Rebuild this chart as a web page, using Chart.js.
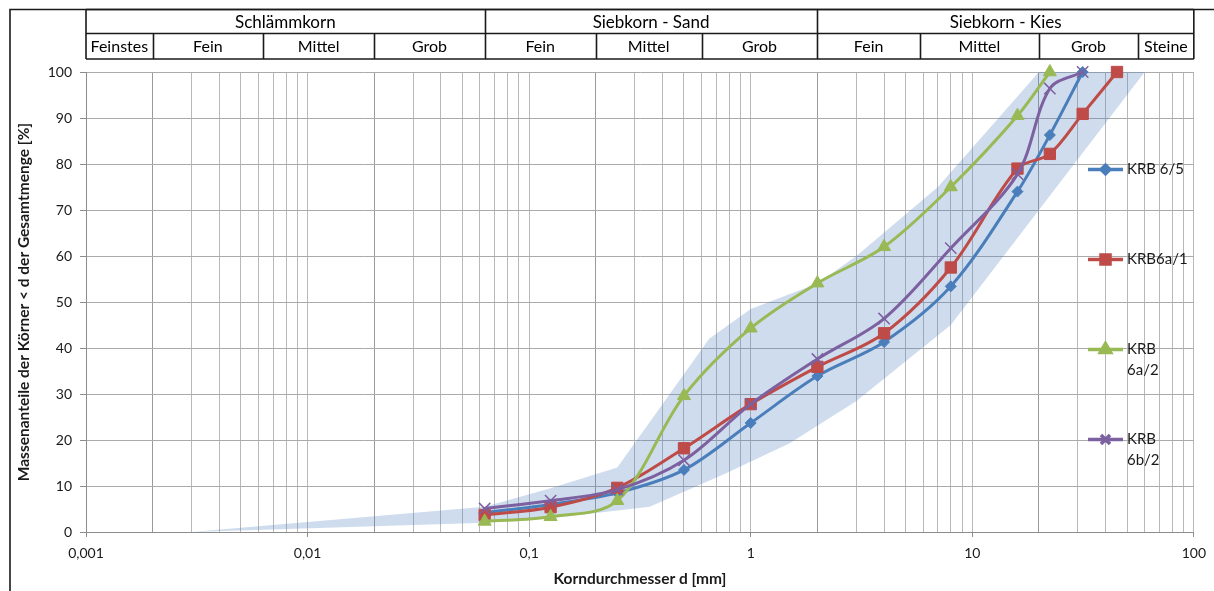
<!DOCTYPE html>
<html><head><meta charset="utf-8">
<script src="https://cdn.jsdelivr.net/npm/chart.js@4/dist/chart.umd.min.js"></script>
<style>html,body{margin:0;padding:0;background:#fff;overflow:hidden}#wrap{position:relative;width:1214px;height:591px}</style>
</head><body><div id="wrap"><canvas id="c" width="1214" height="591"></canvas></div>
<script>
// ---- data ----
const sieveSizes = [0.063, 0.125, 0.25, 0.5, 1, 2, 4, 8, 16, 22.4, 31.5, 45];
const seriesNames = ['KRB 6/5', 'KRB6a/1', 'KRB 6a/2', 'KRB 6b/2'];
const krb65  = [4.2, 6.0, 8.5, 13.5, 23.7, 33.9, 41.3, 53.4, 74.0, 86.3, 100, null];
const krb6a1 = [3.7, 5.4, 9.6, 18.2, 27.8, 35.9, 43.2, 57.5, 79.0, 82.2, 90.9, 100];
const krb6a2 = [2.3, 3.3, 6.8, 29.6, 44.3, 54.1, 62.0, 75.0, 90.5, 100, null, null];
const krb6b2 = [5.1, 6.8, 9.2, 15.6, 27.8, 37.6, 46.4, 61.7, 77.8, 96.4, 100, null];
const bandUpperX = [0.003, 0.063, 0.125, 0.25, 0.65, 1, 2, 3, 7, 20, 60];
const bandUpperY = [0, 5.5, 9.5, 14, 42, 48.5, 54, 60, 75, 100, 100];
const bandLowerX = [0.003, 0.063, 0.125, 0.35, 0.77, 1.5, 3, 8, 60];
const bandLowerY = [0, 2, 3, 5.5, 12.7, 19.3, 28.5, 45, 100];
const xDecades = [0.001, 0.01, 0.1, 1, 10, 100];
const xTickLabels = ['0,001', '0,01', '0,1', '1', '10', '100'];
const yTickValues = [0, 10, 20, 30, 40, 50, 60, 70, 80, 90, 100];
const headerRow1 = ['Schlämmkorn', 'Siebkorn - Sand', 'Siebkorn - Kies'];
const headerRow1Bounds = [0.001, 0.063, 2, 100];
const headerRow2 = ['Feinstes', 'Fein', 'Mittel', 'Grob', 'Fein', 'Mittel', 'Grob', 'Fein', 'Mittel', 'Grob', 'Steine'];
const headerRow2Bounds = [0.001, 0.002, 0.0063, 0.02, 0.063, 0.2, 0.6, 2, 5.8, 20, 56, 100];

// ---- styles ----
const FONT = 'Lato, "Liberation Sans", sans-serif';
const colors = ['#4a7ebb', '#be4b48', '#98b954', '#7d60a0'];
const pStyles = ['rectRot', 'rect', 'triangle', 'crossRot'];
const pRadius = [5.5, 8, 7.5, 8];
const pBorder = [1, 1, 1, 1.5];

const allSeries = [krb65, krb6a1, krb6a2, krb6b2];
const toPts = vals => sieveSizes.map((x, i) => ({x: x, y: vals[i]})).filter(p => p.y !== null);

const bandPoly = bandUpperX.map((x, i) => ({x: x, y: bandUpperY[i]}))
  .concat(bandLowerX.map((x, i) => ({x: x, y: bandLowerY[i]})).reverse().slice(1));

// grid values for log axis (1..9 x 10^n)
const gridValues = [];
xDecades.forEach((d, k) => {
  if (k === xDecades.length - 1) { gridValues.push(d); return; }
  for (let m = 1; m <= 9; m++) gridValues.push(+(d * m).toPrecision(6));
});
const isDecade = v => xDecades.some(d => Math.abs(d - v) / d < 1e-6);
const isTwo = v => xDecades.some(d => Math.abs(d * 2 - v) / (d * 2) < 1e-6);

const datasets = allSeries.map((vals, i) => ({
  label: seriesNames[i],
  data: toPts(vals),
  borderColor: colors[i],
  backgroundColor: colors[i],
  borderWidth: 3,
  pointStyle: pStyles[i],
  pointRadius: pRadius[i],
  pointBorderWidth: pBorder[i],
  pointBackgroundColor: colors[i],
  pointBorderColor: colors[i],
  tension: 0.33,
  fill: false,
  clip: false,
  order: 4 - i
}));
datasets.push({
  label: 'Band',
  data: bandPoly,
  fill: 'shape',
  backgroundColor: 'rgba(79,129,189,0.28)',
  borderWidth: 0,
  borderColor: 'rgba(0,0,0,0)',
  pointRadius: 0,
  tension: 0,
  order: 10
});

const framePlugin = {
  id: 'frame',
  afterDraw(chart) {
    const c = chart.ctx, xs = chart.scales.x;
    c.save();
    // outer frame
    c.strokeStyle = '#1a1a1a'; c.lineWidth = 1.6;
    c.beginPath(); c.moveTo(10, 591); c.lineTo(10, 9.5); c.lineTo(1214, 9.5); c.stroke();
    // header table
    const yTop = 9.5, yMid = 33.5, yBot = 59;
    const L = xs.getPixelForValue(headerRow1Bounds[0]);
    const R = xs.getPixelForValue(headerRow1Bounds[headerRow1Bounds.length - 1]);
    c.beginPath();
    c.moveTo(L, yTop); c.lineTo(R, yTop);
    c.moveTo(L, yMid); c.lineTo(R, yMid);
    c.moveTo(L, yBot); c.lineTo(R, yBot);
    c.moveTo(L, yTop); c.lineTo(L, yBot);
    c.moveTo(R, yTop); c.lineTo(R, yBot);
    headerRow1Bounds.slice(1, -1).forEach(b => { const p = Math.round(xs.getPixelForValue(b)) + 0.5; c.moveTo(p, yTop); c.lineTo(p, yBot); });
    headerRow2Bounds.slice(1, -1).forEach(b => { const p = Math.round(xs.getPixelForValue(b)) + 0.5; c.moveTo(p, yMid); c.lineTo(p, yBot); });
    c.stroke();
    c.fillStyle = '#000'; c.textAlign = 'center'; c.textBaseline = 'middle';
    c.font = '17px ' + FONT;
    headerRow1.forEach((t, i) => {
      const a = xs.getPixelForValue(headerRow1Bounds[i]), b = xs.getPixelForValue(headerRow1Bounds[i + 1]);
      c.fillText(t, (a + b) / 2, (yTop + yMid) / 2 + 1);
    });
    c.font = '16px ' + FONT;
    headerRow2.forEach((t, i) => {
      const a = xs.getPixelForValue(headerRow2Bounds[i]), b = xs.getPixelForValue(headerRow2Bounds[i + 1]);
      c.fillText(t, (a + b) / 2, (yMid + yBot) / 2 + 1);
    });
    // legend
    c.font = '15px ' + FONT; c.textAlign = 'left';
    const maxW = c.measureText(seriesNames[0]).width + 3;
    seriesNames.forEach((name, i) => {
      const y = 169.5 + 90 * i;
      c.strokeStyle = colors[i]; c.lineWidth = 3.5;
      c.beginPath(); c.moveTo(1088, y); c.lineTo(1123, y); c.stroke();
      c.fillStyle = colors[i]; c.strokeStyle = colors[i];
      if (Chart.helpers && Chart.helpers.drawPoint) {
        Chart.helpers.drawPoint(c, {pointStyle: pStyles[i], rotation: 0, radius: pRadius[i] * 0.8, borderWidth: pBorder[i]}, 1105.5, y);
      }
      c.fillStyle = '#1a1a1a';
      const words = name.split(' ');
      let lines = [name];
      if (c.measureText(name).width > maxW && words.length > 1) lines = words;
      lines.forEach((ln, k) => c.fillText(ln, 1127, y + k * 21));
    });
    c.restore();
  }
};

Chart.defaults.font.family = FONT;
Chart.defaults.color = '#1a1a1a';

new Chart(document.getElementById('c'), {
  type: 'line',
  data: {datasets: datasets},
  options: {
    responsive: false,
    animation: false,
    layout: {padding: {top: 72, right: 18, left: 0, bottom: 0}},
    plugins: {legend: {display: false}, tooltip: {enabled: false}},
    scales: {
      x: {
        type: 'logarithmic', min: 0.001, max: 100,
        afterBuildTicks: s => { s.ticks = gridValues.map(v => ({value: v, major: false})); },
        afterFit: s => { s.height = 59; },
        ticks: {
          autoSkip: false, maxRotation: 0, minRotation: 0, padding: 8,
          font: {size: 14},
          callback: v => { const i = xDecades.findIndex(d => Math.abs(d - v) / d < 1e-6); return i >= 0 ? xTickLabels[i] : ''; }
        },
        grid: {
          color: ctx => (ctx.tick && isTwo(ctx.tick.value)) ? '#9a9a9a' : '#b8b8b8',
          lineWidth: 1,
          tickLength: 5,
          tickColor: ctx => (ctx.tick && isDecade(ctx.tick.value)) ? '#8c8c8c' : 'rgba(0,0,0,0)'
        },
        border: {color: '#8c8c8c', width: 1},
        title: {display: true, text: 'Korndurchmesser d [mm]', font: {size: 15.5, weight: 'bold'}, padding: {top: 0, bottom: 3}}
      },
      y: {
        min: 0, max: 100,
        afterBuildTicks: s => { s.ticks = yTickValues.map(v => ({value: v})); },
        afterFit: s => { s.width = 86; },
        ticks: {font: {size: 14}, padding: 8, callback: v => String(v)},
        grid: {color: '#aaaaaa', lineWidth: 1, tickLength: 6, tickColor: '#8c8c8c'},
        border: {color: '#8c8c8c', width: 1},
        title: {display: true, text: 'Massenanteile der Körner < d der Gesamtmenge [%]', font: {size: 15.5, weight: 'bold'}, padding: {top: 15, bottom: 0}}
      }
    }
  },
  plugins: [framePlugin]
});
</script>
</body></html>
